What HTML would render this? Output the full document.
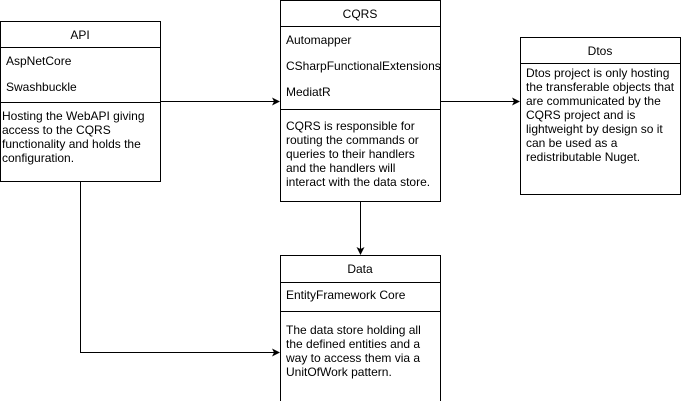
<!DOCTYPE html>
<html><head><meta charset="utf-8"><style>
html,body{margin:0;padding:0;background:#fff;}
svg text{font-family:"Liberation Sans",Arial,sans-serif;font-size:12px;fill:#000;}
</style></head><body>
<svg width="681" height="401" viewBox="0 0 681 401" xmlns="http://www.w3.org/2000/svg">
<defs><clipPath id="c"><rect x="280" y="0" width="160" height="201"/></clipPath></defs>
<g fill="#fff" stroke="#000" stroke-width="1">
<rect x="0.5" y="21.5" width="160" height="160"/>
<line x1="0.5" y1="47.5" x2="160.5" y2="47.5"/>
<line x1="0.5" y1="102.5" x2="160.5" y2="102.5"/>
<rect x="280.5" y="0.5" width="160" height="201"/>
<line x1="280.5" y1="26.5" x2="440.5" y2="26.5"/>
<line x1="280.5" y1="109.5" x2="440.5" y2="109.5"/>
<rect x="520.5" y="37.5" width="160" height="157"/>
<line x1="520.5" y1="63.5" x2="680.5" y2="63.5"/>
<rect x="280.5" y="255.5" width="160" height="146"/>
<line x1="280.5" y1="282.5" x2="440.5" y2="282.5"/>
<line x1="280.5" y1="311.5" x2="440.5" y2="311.5"/>
</g>
<g stroke="#000" fill="none">
<line x1="160.5" y1="101.5" x2="274" y2="101.5"/>
<line x1="440.5" y1="101.5" x2="514" y2="101.5"/>
<line x1="360.5" y1="201.5" x2="360.5" y2="249"/>
<polyline points="80.5,181.5 80.5,352.5 274,352.5"/>
</g>
<g fill="#000">
<polygon points="280,101.5 272,97.5 274,101.5 272,105.5"/>
<polygon points="520,101.5 512,97.5 514,101.5 512,105.5"/>
<polygon points="360.5,255 356.5,247 360.5,249 364.5,247"/>
<polygon points="280,352.5 272,348.5 274,352.5 272,356.5"/>
</g>
<text x="80" y="39" text-anchor="middle">API</text>
<text x="6" y="65">AspNetCore</text>
<text x="6" y="91">Swashbuckle</text>
<text x="2" y="120">Hosting the WebAPI giving</text>
<text x="2" y="134">access to the CQRS</text>
<text x="2" y="148">functionality and holds the</text>
<text x="2" y="162">configuration.</text>
<text x="360" y="18" text-anchor="middle">CQRS</text>
<text x="286" y="44">Automapper</text>
<text x="286" y="70" clip-path="url(#c)">CSharpFunctionalExtensions</text>
<text x="286" y="96">MediatR</text>
<text x="286" y="130">CQRS is responsible for</text>
<text x="286" y="144">routing the commands or</text>
<text x="286" y="158">queries to their handlers</text>
<text x="286" y="172">and the handlers will</text>
<text x="286" y="186">interact with the data store.</text>
<text x="600" y="55" text-anchor="middle">Dtos</text>
<text x="526" y="77">Dtos project is only hosting</text>
<text x="526" y="91">the transferable objects that</text>
<text x="526" y="105">are communicated by the</text>
<text x="526" y="119">CQRS project and is</text>
<text x="526" y="133">lightweight by design so it</text>
<text x="526" y="147">can be used as a</text>
<text x="526" y="161">redistributable Nuget.</text>
<text x="360" y="273" text-anchor="middle">Data</text>
<text x="286" y="299">EntityFramework Core</text>
<text x="286" y="334">The data store holding all</text>
<text x="286" y="348">the defined entities and a</text>
<text x="286" y="362">way to access them via a</text>
<text x="286" y="376">UnitOfWork pattern.</text>
</svg>
</body></html>
